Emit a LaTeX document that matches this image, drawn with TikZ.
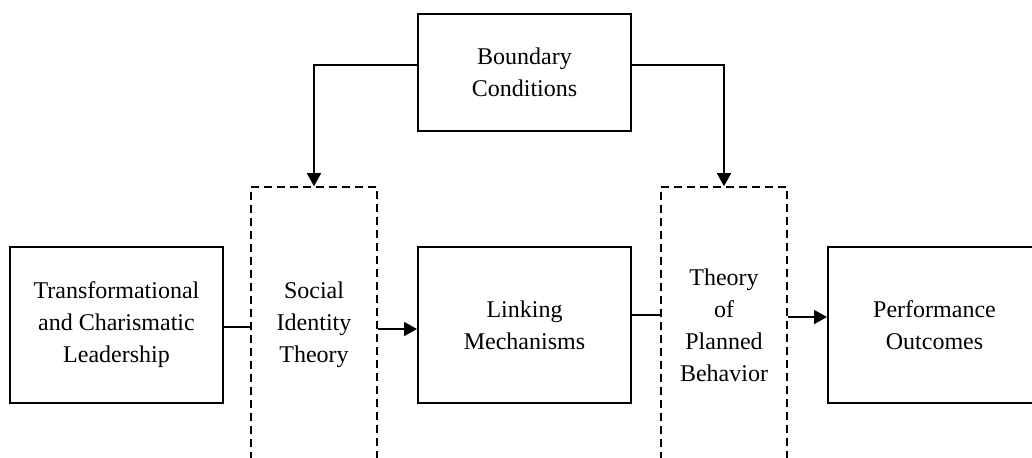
\documentclass[tikz,border=0pt]{standalone}
\usepackage{fontspec}
\setmainfont{Liberation Serif}
\usetikzlibrary{arrows.meta}
\tikzset{
	box/.style={draw, line width=1pt, minimum width=106.5pt, minimum height=78pt, align=center, font=\fontsize{12}{16}\selectfont},
	theorybox/.style={draw, dash pattern=on 4pt off 2.5pt, line width=0.8pt, minimum width=63pt, minimum height=138pt, align=center, font=\fontsize{12}{16}\selectfont},
	link/.style={line width=0.8pt},
	flow/.style={line width=0.8pt, -{Triangle[length=6.5pt,width=7pt]}}
}

\begin{document}
\begin{tikzpicture}[x=0.5pt, y=-0.5pt]
			%%%%% START %%%%%
			
			\useasboundingbox (0, 0) rectangle (1032, 457);
			\clip (0, 0) rectangle (1032, 457);
			
			\node[box, minimum height=58.5pt] (bc) at (524.5, 72.5) {Boundary\\Conditions};
			
			\node[box] (tcl) at (116.5, 325) {Transformational\\and Charismatic\\Leadership};
			\node[theorybox] (sit) at (314, 325) {Social\\Identity\\Theory};
			\node[box] (lm) at (524.5, 325) {Linking\\Mechanisms};
			\node[theorybox] (tpb) at (724, 325) {Theory\\of\\Planned\\Behavior};
			\node[box] (po) at (934.5, 325) {Performance\\Outcomes};
			
			\draw[flow] ([yshift=3.75pt]bc.west) -| (sit.north);
			\draw[flow] ([yshift=3.75pt]bc.east) -| (tpb.north);
			
			\draw[link] ([yshift=-1pt]tcl.east) -- ([yshift=-1pt]sit.west);
			\draw[flow] ([yshift=-2pt]sit.east) -- ([yshift=-2pt]lm.west);
			\draw[link] ([yshift=5pt]lm.east) -- ([yshift=5pt]tpb.west);
			\draw[flow] ([yshift=4pt]tpb.east) -- ([yshift=4pt]po.west);
			
			%%%%% END %%%%%
\end{tikzpicture}
\end{document}
